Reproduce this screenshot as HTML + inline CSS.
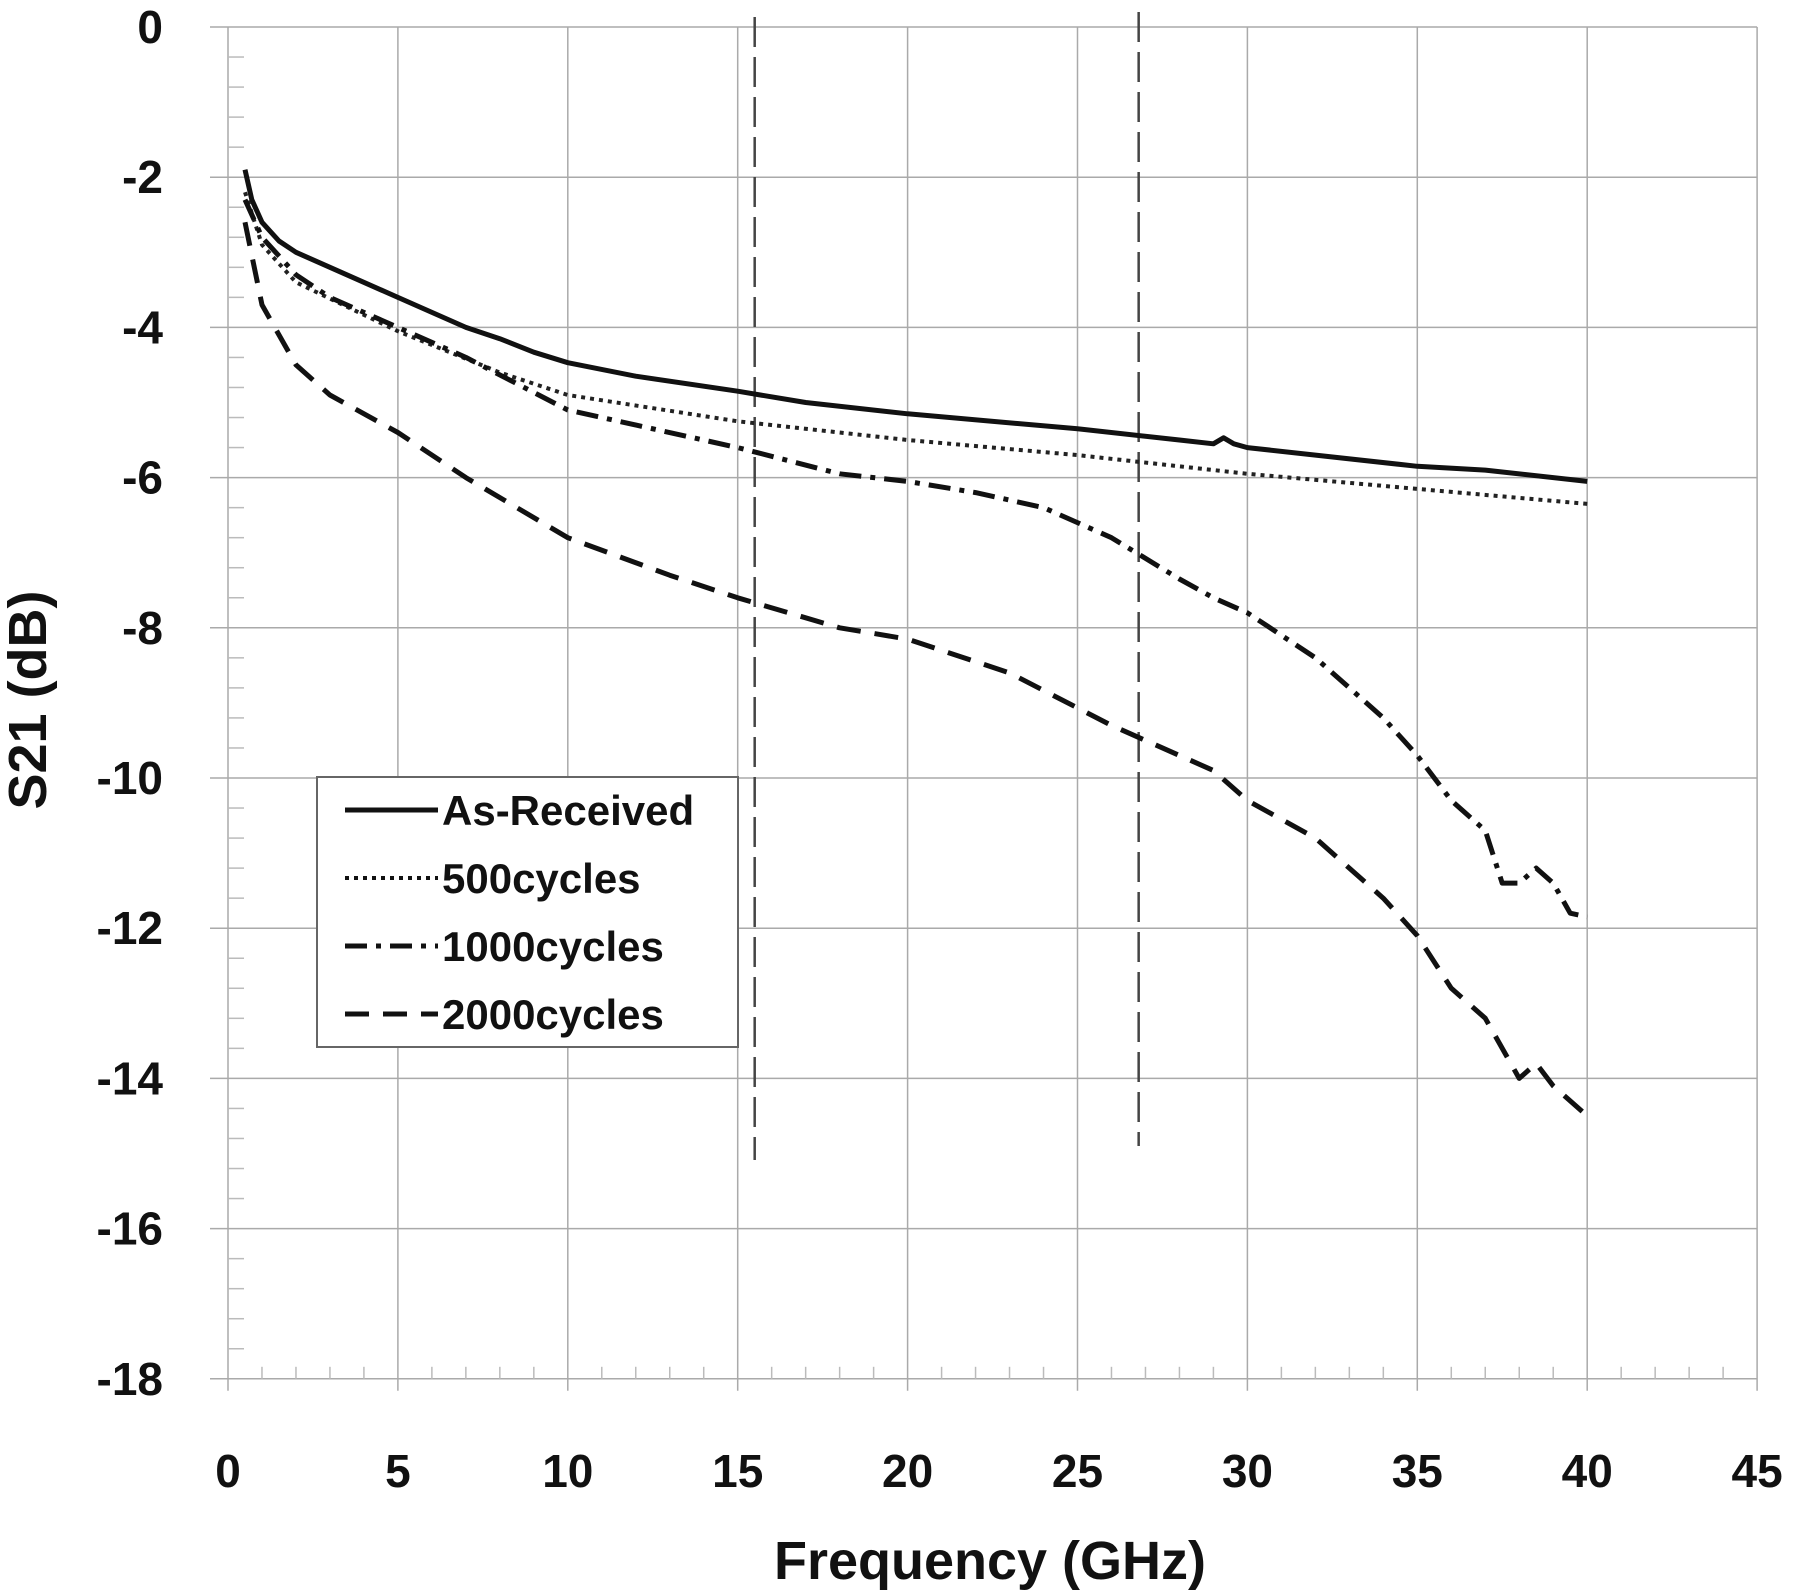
<!DOCTYPE html>
<html><head><meta charset="utf-8"><style>
html,body{margin:0;padding:0;background:#fff}
svg{display:block}
text{font-family:"Liberation Sans",sans-serif;font-weight:bold;fill:#111}
</style></head><body>
<svg id="s" width="1800" height="1592" viewBox="0 0 1800 1592" xmlns="http://www.w3.org/2000/svg"></svg>
<script>
const s=document.getElementById('s');
const X=v=>228+v*33.98, Y=v=>27-v*75.1;
let h='';
for(let g=0;g<=45;g+=5) h+=`<line x1="${X(g)}" y1="${Y(0)}" x2="${X(g)}" y2="${Y(-18)+12}" stroke="#aaa" stroke-width="1.5"/>`;
for(let d=0;d>=-18;d-=2) h+=`<line x1="${X(0)-18}" y1="${Y(d)}" x2="${X(45)}" y2="${Y(d)}" stroke="#aaa" stroke-width="1.5"/>`;
for(let g=1;g<45;g++) if(g%5) h+=`<line x1="${X(g)}" y1="${Y(-18)-12}" x2="${X(g)}" y2="${Y(-18)}" stroke="#bbb" stroke-width="1.5"/>`;
for(let d=0;d>-18;d-=0.4){ if(Math.abs(d/2-Math.round(d/2))<0.01) continue; h+=`<line x1="${X(0)}" y1="${Y(d)}" x2="${X(0)+16}" y2="${Y(d)}" stroke="#bbb" stroke-width="1.5"/>`;}
for(let g=0;g<=45;g+=5) h+=`<text x="${X(g)}" y="1487" font-size="46" text-anchor="middle">${g}</text>`;
for(let d=0;d>=-18;d-=2) h+=`<text x="163" y="${Y(d)+16}" font-size="46" text-anchor="end">${d}</text>`;
h+=`<text x="990" y="1579" font-size="54" text-anchor="middle">Frequency (GHz)</text>`;
h+=`<text transform="translate(46,700) rotate(-90)" font-size="54" text-anchor="middle">S21 (dB)</text>`;
h+=`<line x1="${X(15.5)}" y1="17" x2="${X(15.5)}" y2="1160" stroke="#444" stroke-width="2.5" stroke-dasharray="30,10"/>`;
h+=`<line x1="${X(26.8)}" y1="12" x2="${X(26.8)}" y2="1146" stroke="#444" stroke-width="2.5" stroke-dasharray="30,10"/>`;
const P=a=>a.map((p,i)=>(i?'L':'M')+X(p[0]).toFixed(1)+','+Y(p[1]).toFixed(1)).join('');
const A=[[0.5,-1.9],[0.7,-2.3],[1,-2.6],[1.5,-2.85],[2,-3.0],[3,-3.2],[5,-3.6],[6,-3.8],[7,-4.0],[8,-4.15],[9,-4.33],[10,-4.47],[12,-4.65],[15,-4.85],[17,-5.0],[20,-5.15],[25,-5.35],[28,-5.5],[29,-5.55],[29.3,-5.47],[29.6,-5.55],[30,-5.6],[35,-5.85],[37,-5.9],[40,-6.05]];
const B=[[0.5,-2.2],[1,-2.9],[2,-3.4],[5,-4.05],[8,-4.6],[10,-4.9],[15,-5.25],[20,-5.5],[25,-5.7],[30,-5.95],[35,-6.15],[40,-6.35]];
const C=[[0.5,-2.3],[1,-2.8],[2,-3.3],[3,-3.6],[5,-4.0],[7,-4.4],[10,-5.1],[15,-5.6],[18,-5.95],[20,-6.05],[22,-6.2],[24,-6.4],[26,-6.8],[28,-7.35],[29,-7.6],[30,-7.8],[32,-8.4],[34,-9.2],[35,-9.7],[36,-10.3],[37,-10.7],[37.5,-11.4],[38,-11.4],[38.5,-11.2],[39,-11.4],[39.5,-11.8],[40,-11.85]];
const D=[[0.5,-2.6],[1,-3.7],[2,-4.5],[3,-4.9],[5,-5.4],[7,-6.0],[10,-6.8],[13,-7.3],[15,-7.6],[18,-8.0],[20,-8.15],[23,-8.6],[26,-9.3],[29,-9.9],[30,-10.3],[32,-10.8],[34,-11.6],[35,-12.1],[36,-12.8],[37,-13.2],[38,-14.0],[38.5,-13.8],[39,-14.1],[40,-14.5]];
const J='fill="none" stroke-linejoin="round"';
h+=`<path d="${P(A)}" ${J} stroke="#111" stroke-width="5"/>`;
h+=`<path d="${P(B)}" ${J} stroke="#222" stroke-width="4" stroke-dasharray="4,5"/>`;
h+=`<path d="${P(C)}" ${J} stroke="#111" stroke-width="5" stroke-dasharray="22,9,5,9"/>`;
h+=`<path d="${P(D)}" ${J} stroke="#111" stroke-width="5" stroke-dasharray="24,14"/>`;
h+=`<rect x="317" y="777" width="421" height="270" fill="#fff" stroke="#666" stroke-width="2"/>`;
const L=[['As-Received','',5],['500cycles','4,5',4],['1000cycles','22,9,5,9',5],['2000cycles','24,14',5]];
L.forEach((l,i)=>{const y=810+i*68;
h+=`<line x1="345" y1="${y}" x2="438" y2="${y}" stroke="#111" stroke-width="${l[2]}" ${l[1]?`stroke-dasharray="${l[1]}"`:''}/>`;
h+=`<text x="442" y="${y+15}" font-size="42">${l[0]}</text>`;});
s.innerHTML=h;
</script>
</body></html>
